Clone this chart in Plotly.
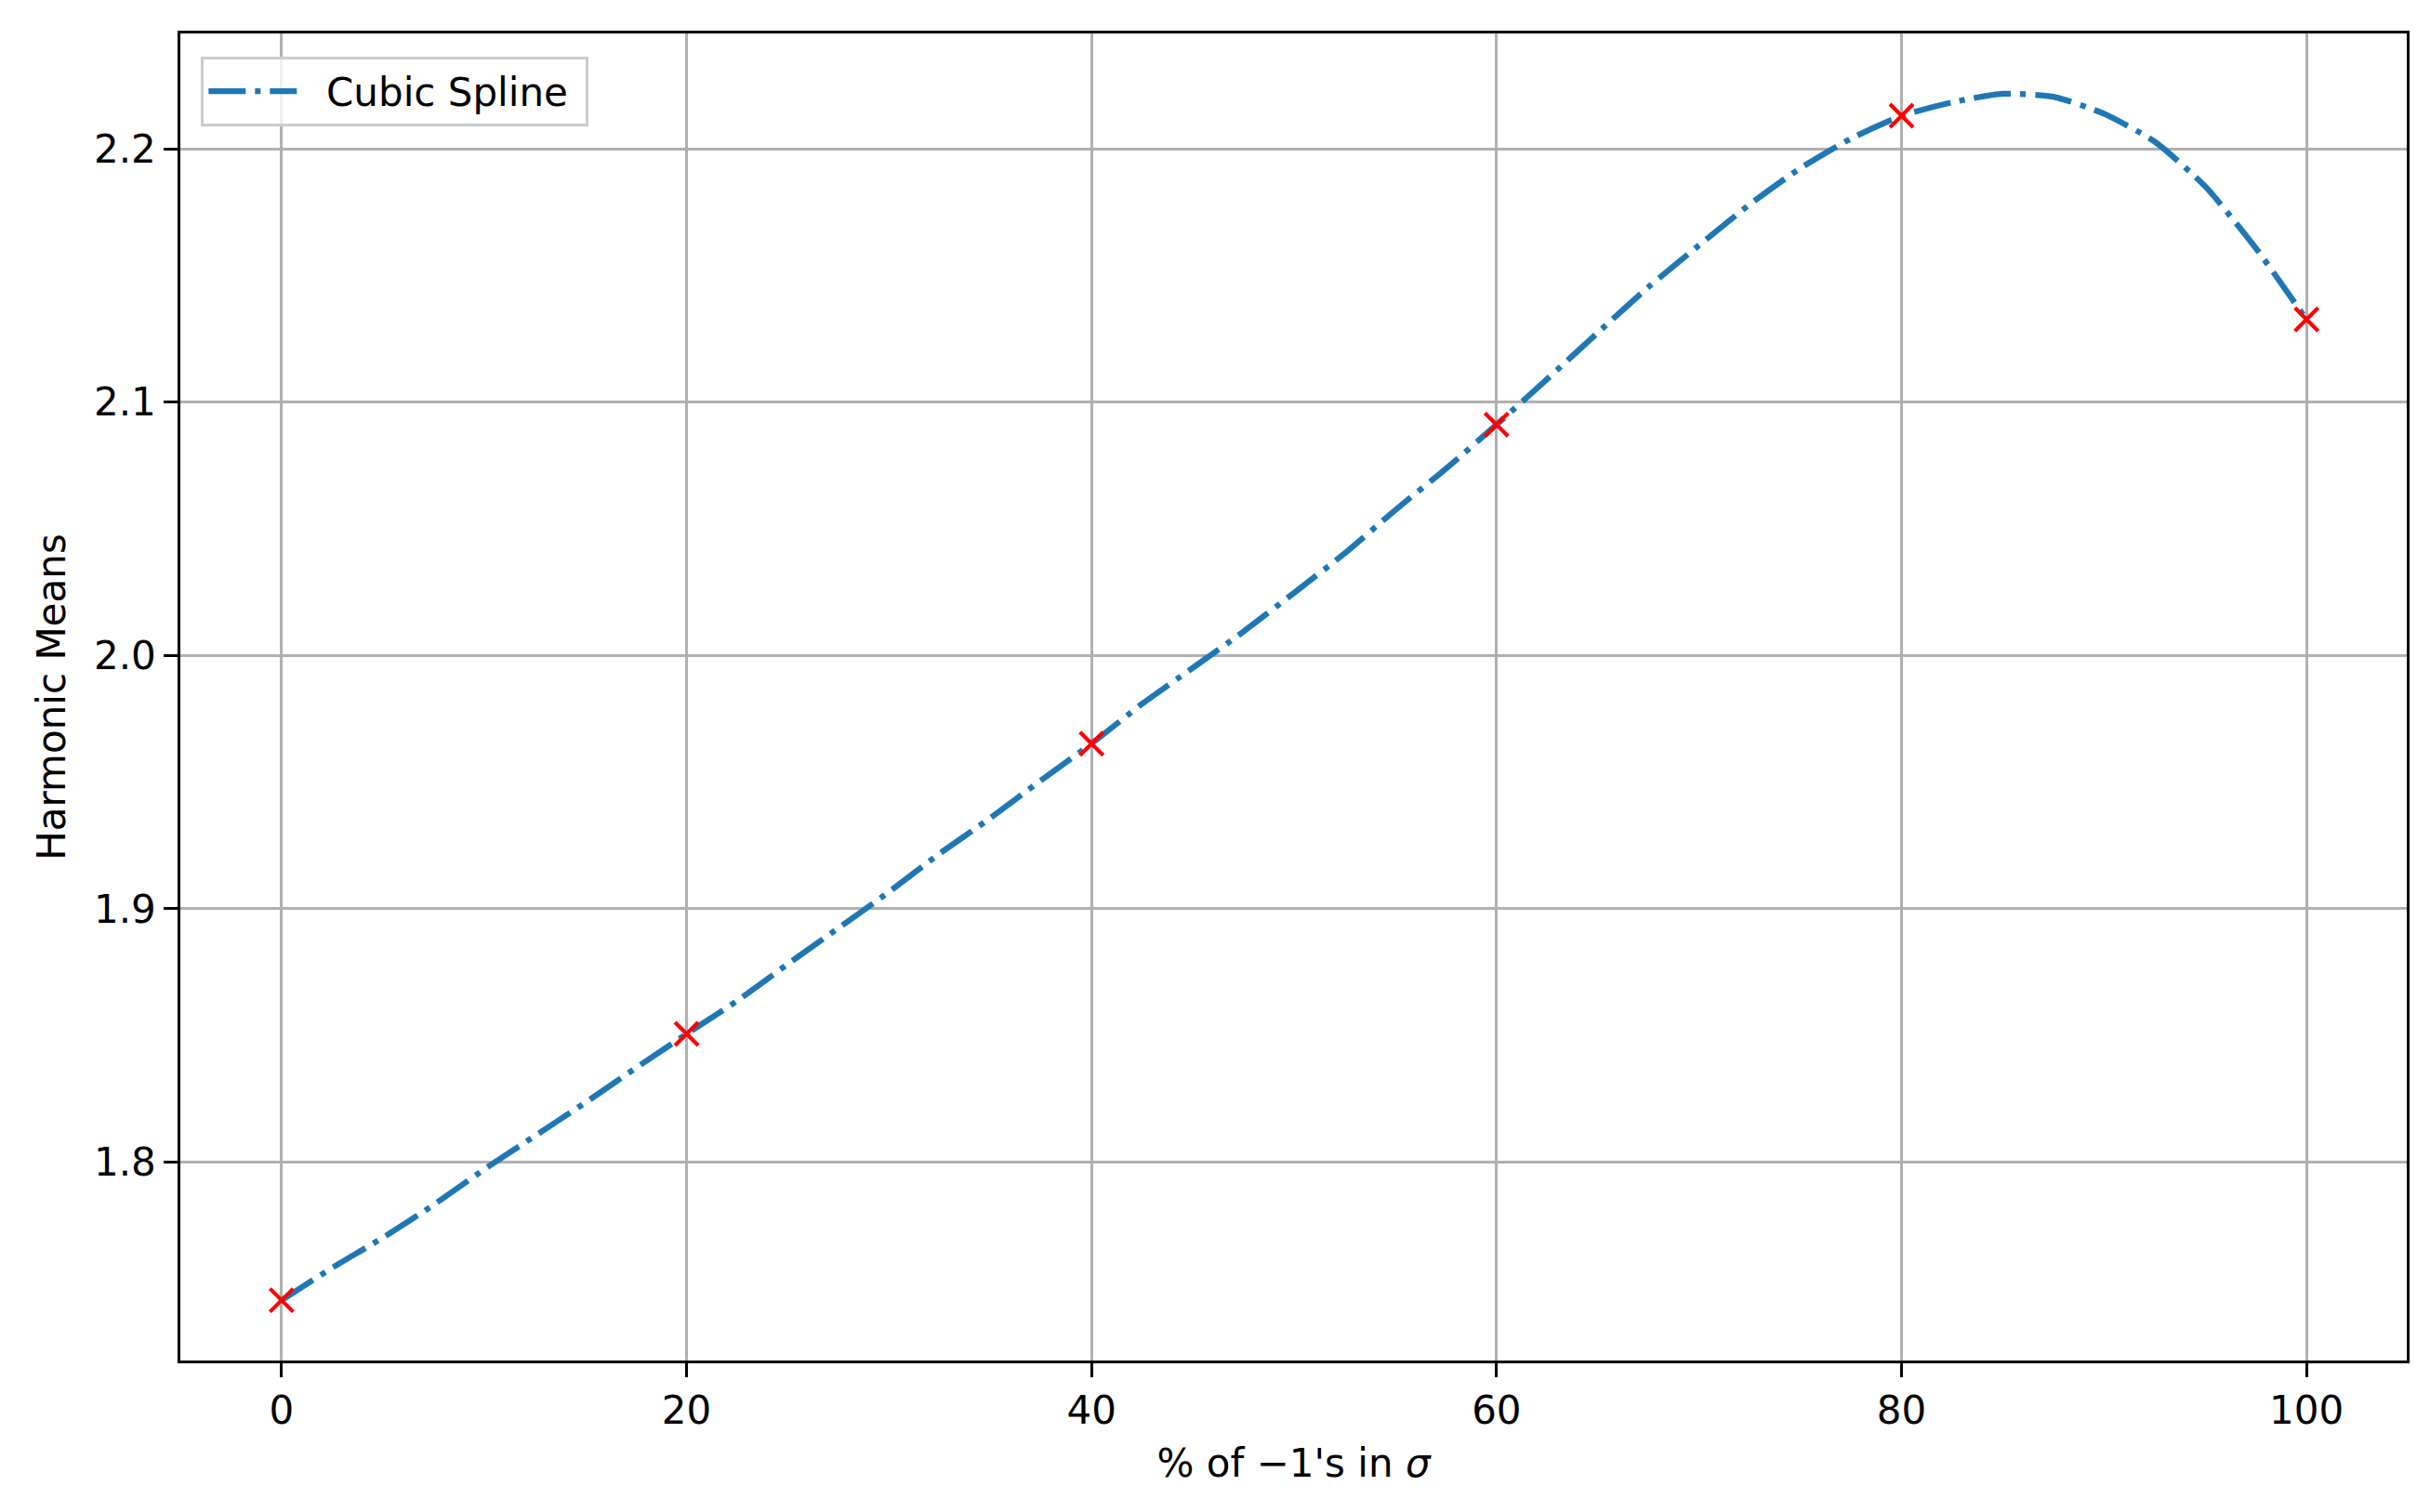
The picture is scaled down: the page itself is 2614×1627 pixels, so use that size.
import plotly.graph_objects as go

# Sample points (red crosses)
point_x = [0, 20, 40, 60, 80, 100]
point_y = [1.7455, 1.8506, 1.9652, 2.0911, 2.2130, 2.1326]

# Cubic-spline curve, values
curve_x = [0, 2.5, 5, 7.5, 10, 12.5, 15, 17.5, 20, 22.5, 25, 27.5, 30, 32.5, 35,
           37.5, 40, 42.5, 45, 47.5, 50, 52.5, 55, 57.5, 60, 62.5, 65, 67.5, 70,
           72.5, 75, 77.5, 80, 82.5, 85, 87.5, 90, 92.5, 95, 97.5, 100]
curve_y = [1.7455, 1.7583, 1.7702, 1.7831, 1.7971, 1.8103, 1.8235, 1.8372, 1.8506,
           1.8637, 1.8782, 1.8924, 1.9067, 1.9218, 1.9358, 1.9507, 1.9652, 1.9809,
           1.9951, 2.0094, 2.0247, 2.0403, 2.0574, 2.0737, 2.0911, 2.1091, 2.1274,
           2.1454, 2.1619, 2.1780, 2.1923, 2.2040, 2.2130, 2.2183, 2.2217, 2.2205,
           2.2138, 2.2028, 2.1851, 2.1607, 2.1326]

x_ticks = [0, 20, 40, 60, 80, 100]
y_ticks = [1.8, 1.9, 2.0, 2.1, 2.2]

FONT = "DejaVu Sans"
FS = 42

fig = go.Figure()
fig.add_trace(go.Scatter(
    x=curve_x, y=curve_y, mode="lines", name="\u00a0\u00a0Cubic Spline\u00a0",
    line=dict(color="#1f77b4", width=6.25, dash="40px,10px,6px,10px", shape="spline", smoothing=0.6),
))
fig.add_trace(go.Scatter(
    x=point_x, y=point_y, mode="markers", showlegend=False,
    marker=dict(symbol="x-thin", size=25, color="red", line=dict(color="red", width=4.2)),
))

axis_common = dict(
    showline=True, mirror=True, linecolor="black", linewidth=3.3,
    showgrid=True, gridcolor="#b0b0b0", gridwidth=3.3,
    ticks="outside", ticklen=14.6, tickwidth=3.3, tickcolor="black",
    tickfont=dict(family=FONT, size=FS, color="black"),
    zeroline=False,
)

fig.update_layout(
    width=2606, height=1619,
    paper_bgcolor="white", plot_bgcolor="white",
    margin=dict(l=186, r=25, t=28, b=163, autoexpand=False),
    font=dict(family=FONT, size=FS, color="black"),
    xaxis=dict(range=[-5.0, 104.95], tickvals=x_ticks, ticktext=[str(v) for v in x_ticks],
               title=dict(text="% of \u22121's in <i>\u03c3</i>", font=dict(family=FONT, size=FS),
                          standoff=19),
               ticklabelstandoff=0, automargin=False, **axis_common),
    yaxis=dict(range=[1.7217, 2.2455], tickvals=y_ticks, ticktext=["%.1f" % v for v in y_ticks],
               title=dict(text="Harmonic Means", font=dict(family=FONT, size=FS), standoff=18),
               ticklabelstandoff=0, automargin=False, **axis_common),
    legend=dict(x=0.0092, y=0.9825, xanchor="left", yanchor="top",
                bgcolor="rgba(255,255,255,0.8)", bordercolor="#cccccc", borderwidth=3.3,
                font=dict(family=FONT, size=FS), itemwidth=95, tracegroupgap=0),
    showlegend=True,
)

fig.write_html("out.html")
